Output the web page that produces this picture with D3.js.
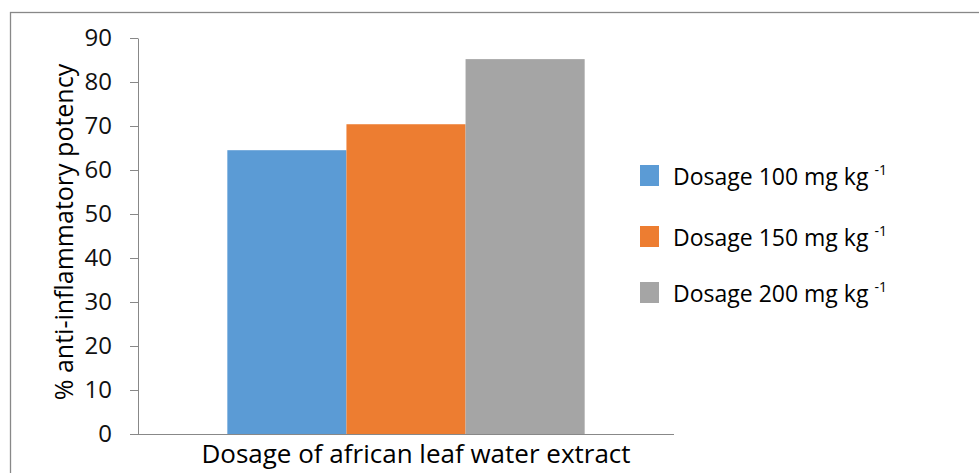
<!DOCTYPE html>
<html>
<head>
<meta charset="utf-8">
<script src="https://cdn.jsdelivr.net/npm/d3@7"></script>
<style>
  body { margin: 0; background: #fff; }
  text { font-family: "Open Sans", "Noto Sans", sans-serif; fill: #000; }
</style>
</head>
<body>
<div id="chart"></div>
<script>
// Chart data
const category = "Dosage of african leaf water extract";
const seriesNames = ["Dosage 100 mg kg", "Dosage 150 mg kg", "Dosage 200 mg kg"];
const seriesValues = [64.5, 70.4, 85.2];
const seriesColors = ["#5B9BD5", "#ED7D31", "#A5A5A5"];
const yTicks = [0, 10, 20, 30, 40, 50, 60, 70, 80, 90];

const width = 979, height = 473;
const plot = { left: 138, right: 674, top: 38, bottom: 434 };

let svg = d3.select("#chart")
    .append("svg")
    .attr("width", width)
    .attr("height", height);

// Outer frame (runs off the right and bottom edges)
svg.append("rect")
    .attr("x", 10.5).attr("y", 12.5)
    .attr("width", 1000).attr("height", 500)
    .style("fill", "none")
    .style("stroke", "#888")
    .style("stroke-width", 1.3);

let y = d3.scaleLinear().domain([0, 90]).range([plot.bottom, plot.top]);

let x0 = d3.scaleBand().domain([category]).range([plot.left, plot.right]).paddingInner(0).paddingOuter(0.25);
let x1 = d3.scaleBand().domain(seriesNames).range([0, x0.bandwidth()]).padding(0);

// Y axis
let yAxis = svg.append("g")
    .attr("transform", `translate(${plot.left},0)`)
    .call(d3.axisLeft(y).tickValues(yTicks).tickSize(8).tickPadding(18).tickSizeOuter(0));
yAxis.select(".domain").style("stroke", "#888");
yAxis.selectAll(".tick line").style("stroke", "#888");
yAxis.selectAll(".tick text")
    .style("font-size", "24px")
    .style("font-family", "'Open Sans', sans-serif")
    .style("fill", "#111");

// Bars
svg.selectAll("rect.bar")
    .data(seriesValues)
    .enter()
    .append("rect")
    .attr("class", "bar")
    .attr("x", (d, i) => x0(category) + x1(seriesNames[i]))
    .attr("width", x1.bandwidth())
    .attr("y", d => y(d))
    .attr("height", d => y(0) - y(d))
    .style("fill", (d, i) => seriesColors[i]);

// X axis line
svg.append("line")
    .attr("x1", plot.left).attr("x2", plot.right)
    .attr("y1", plot.bottom + 0.5).attr("y2", plot.bottom + 0.5)
    .style("stroke", "#888");

// Axis titles
svg.append("text")
    .attr("x", 416).attr("y", 463)
    .style("text-anchor", "middle")
    .style("font-size", "26px")
    .text(category);

svg.append("text")
    .attr("transform", `translate(73, 232) rotate(-90)`)
    .style("text-anchor", "middle")
    .style("font-size", "25px")
    .text("% anti-inflammatory potency");

// Legend
const legendY = [176, 237, 293];
let legend = svg.selectAll("g.legend")
    .data(seriesNames)
    .enter()
    .append("g")
    .attr("class", "legend")
    .attr("transform", (d, i) => `translate(640, ${legendY[i]})`);

legend.append("rect")
    .attr("x", 0).attr("y", -11)
    .attr("width", 19).attr("height", 21)
    .style("fill", (d, i) => seriesColors[i]);

let lt = legend.append("text")
    .attr("x", 33).attr("y", 9)
    .style("font-size", "23px");
lt.append("tspan").text(d => d + " ");
lt.append("tspan").attr("dy", -10).style("font-size", "14px").text("-1");
</script>
</body>
</html>
